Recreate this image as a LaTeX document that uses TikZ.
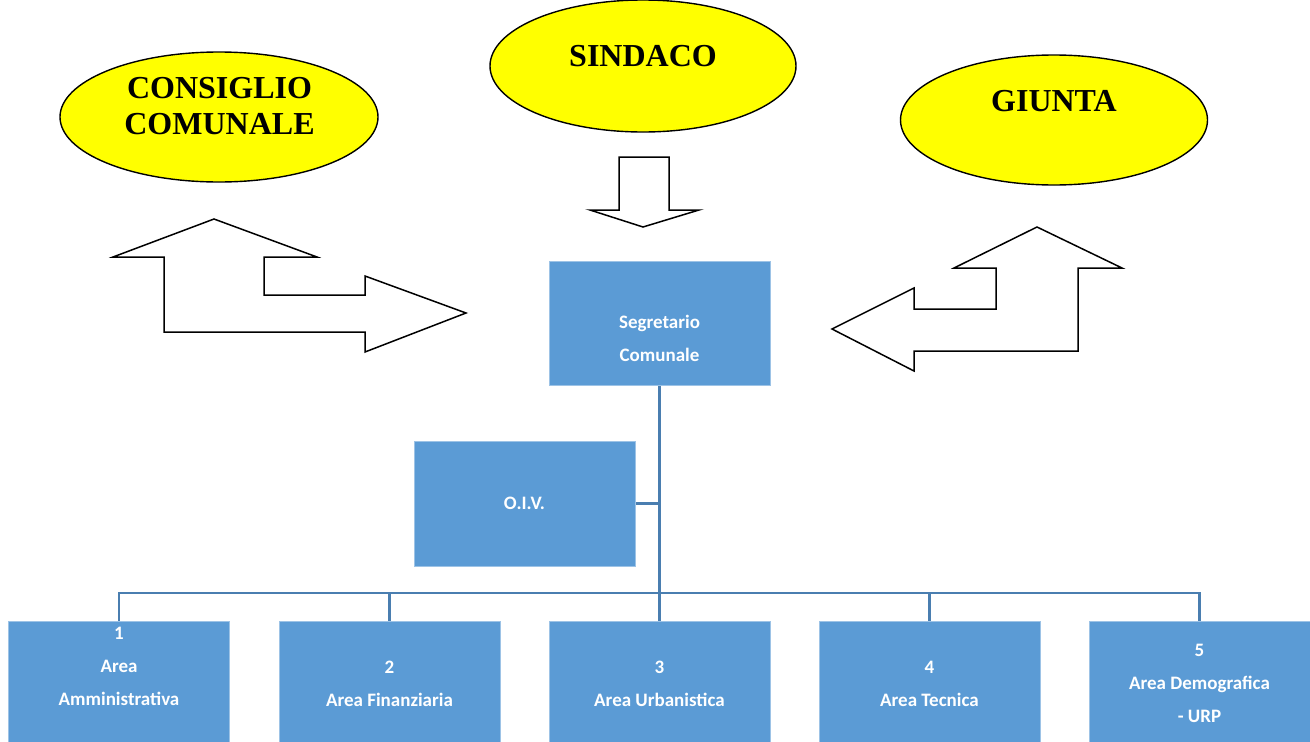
\documentclass[tikz,border=0pt]{standalone}
\usepackage{fontspec}
\setmainfont{Liberation Serif}
\newfontfamily\boxfont{Carlito}
\usetikzlibrary{shapes.geometric}
\definecolor{boxblue}{HTML}{5B9BD5}
\definecolor{linkblue}{HTML}{4A7EB0}
\definecolor{ovalyellow}{HTML}{FFFF00}
\begin{document}
\begin{tikzpicture}[x=1pt,y=-1pt,
  oval/.style={draw=black, line width=1.4pt, fill=ovalyellow, ellipse, inner sep=0pt},
  ovaltext/.style={font=\bfseries\fontsize{32}{36}\selectfont, align=center, inner sep=0pt},
  box/.style={fill=boxblue, draw=boxblue!60!white, line width=0.8pt, inner sep=0pt,
    minimum width=221pt, minimum height=124pt, text=white,
    font=\boxfont\bfseries\fontsize{19}{33}\selectfont, align=center},
  boxtext/.style={text=white, font=\boxfont\bfseries\fontsize{19}{33}\selectfont, align=center, inner sep=0pt},
  bigarrow/.style={draw=black, line width=1.5pt, fill=white, line join=miter},
  link/.style={draw=linkblue, line width=2.4pt}]
\useasboundingbox (0,0) rectangle (1310,742);
\fill[white] (0,0) rectangle (1310,742);

% ovals
\node[oval, minimum width=318pt, minimum height=130pt] (cons) at (219,117) {};
\node[ovaltext] (consT) at (219.5,106) {CONSIGLIO\\COMUNALE};
\node[oval, minimum width=306pt, minimum height=132pt] (sind) at (643,66) {};
\node[ovaltext] (sindT) at (643,56) {SINDACO};
\node[oval, minimum width=307pt, minimum height=130pt] (giun) at (1054,120) {};
\node[ovaltext] (giunT) at (1054,101) {GIUNTA};

% block arrows
\draw[bigarrow] (619,157) -- (669,157) -- (669,210) -- (699,210) -- (643,227)
  -- (590,210) -- (619,210) -- cycle;
\draw[bigarrow] (214,219) -- (317,257) -- (264,257) -- (264,295) -- (365,295)
  -- (365,276) -- (466,313) -- (365,352) -- (365,332) -- (164,332)
  -- (164,257) -- (113,257) -- cycle;
\draw[bigarrow] (1037,227) -- (1122,268) -- (1078,268) -- (1078,351) -- (914,351)
  -- (914,371) -- (832,329) -- (914,288) -- (914,309) -- (996,309)
  -- (996,268) -- (954,268) -- cycle;

% connectors (drawn first, boxes on top)
\coordinate (bus) at (0,593);
\coordinate (trunkTop) at (659.5,385);
\coordinate (trunkBot) at (659.5,621);
\coordinate (oivR) at (635,503.5);
\draw[link] (trunkTop) -- (trunkBot);
\draw[link] (oivR) -- (oivR -| trunkTop);

% boxes
\node[box, minimum height=124pt] (seg) at (659.5,323) {};
\node[boxtext] (segT) at (659.5,338) {Segretario\\Comunale};
\node[box, minimum height=125pt] (oiv) at (524.5,503.5) {O.I.V.};
\node[box, minimum height=125pt] (a1) at (119,683.5) {};
\node[boxtext] (a1T) at (119,666) {1\\Area\\Amministrativa};
\node[box, minimum height=125pt] (a2) at (389.5,683.5) {2\\Area Finanziaria};
\node[box, minimum height=125pt] (a3) at (659.5,683.5) {3\\Area Urbanistica};
\node[box, minimum height=125pt] (a4) at (929.5,683.5) {4\\Area Tecnica};
\node[box, minimum height=125pt] (a5) at (1199.5,683.5) {5\\Area Demografica\\- URP};

\draw[link] (a1.north) -- (a1.north |- bus) -- (a5.north |- bus) -- (a5.north);
\draw[link] (a2.north) -- (a2.north |- bus);
\draw[link] (a4.north) -- (a4.north |- bus);
\end{tikzpicture}
\end{document}
